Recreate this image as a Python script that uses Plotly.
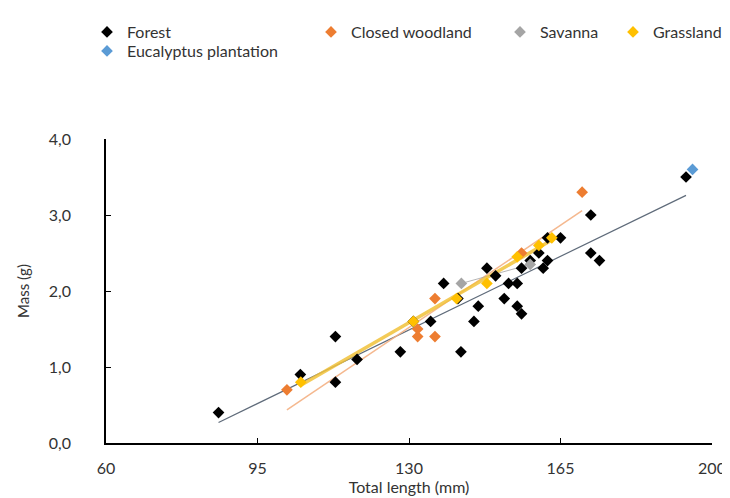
import numpy as np
import plotly.graph_objects as go

# ---- data ----
forest_x = [86, 104.9, 113, 113, 118, 128, 131, 135, 138, 141.3, 142, 145, 146, 148, 150, 152, 153, 155, 155, 156,
            156, 158, 160, 161, 162, 162, 165, 172, 172, 174, 194]
forest_y = [0.4, 0.9, 1.4, 0.8, 1.1, 1.2, 1.6, 1.6, 2.1, 1.9, 1.2, 1.6, 1.8, 2.3, 2.2, 1.9, 2.1, 2.1, 1.8, 1.7,
            2.3, 2.4, 2.5, 2.3, 2.4, 2.7, 2.7, 3.0, 2.5, 2.4, 3.5]
closed_x = [101.8, 132, 132, 136, 136, 156, 170]
closed_y = [0.7, 1.5, 1.4, 1.4, 1.9, 2.5, 3.3]
savanna_x = [142.1, 158]
savanna_y = [2.1, 2.35]
grass_x = [105, 131, 141, 148, 155, 160, 163]
grass_y = [0.8, 1.6, 1.9, 2.1, 2.45, 2.6, 2.7]
euc_x = [195.5]
euc_y = [3.6]

x_ticks = [60, 95, 130, 165, 200]
y_ticks = [0, 1, 2, 3, 4]

# name, x, y, marker colour, trend colour, trend width, trend opacity, legend id, legend pos (px)
series = [
    ("Forest", forest_x, forest_y, "#000000", "#5f6b7a", 1.2, 1.0, "legend", (79, 24)),
    ("Closed woodland", closed_x, closed_y, "#ED7D31", "#F4B183", 1.5, 0.9, "legend2", (303, 24)),
    ("Savanna", savanna_x, savanna_y, "#A5A5A5", "#A5A5A5", 1.0, 0.8, "legend3", (492, 24)),
    ("Grassland", grass_x, grass_y, "#FFC000", "#F2C23A", 3.5, 0.85, "legend4", (605, 24)),
    ("Eucalyptus plantation", euc_x, euc_y, "#5B9BD5", None, 0, 0, "legend5", (79, 43)),
]

W, H = 730, 498
fig = go.Figure()

# trendlines first (below markers)
for name, xs, ys, mc, lc, lw, op, lg, pos in series:
    if lc is None or len(xs) < 2:
        continue
    xs_a = np.array(xs, dtype=float)
    ys_a = np.array(ys, dtype=float)
    m, b = np.polyfit(xs_a, ys_a, 1)
    xl = np.array([xs_a.min(), xs_a.max()])
    fig.add_trace(go.Scatter(x=xl, y=m * xl + b, mode="lines",
                             line=dict(color=lc, width=lw), opacity=op,
                             showlegend=False, hoverinfo="skip"))

legend_layouts = {}
for name, xs, ys, mc, lc, lw, op, lg, pos in series:
    fig.add_trace(go.Scatter(x=xs, y=ys, mode="markers", name=name, legend=lg,
                             marker=dict(symbol="diamond", size=9, color=mc)))
    legend_layouts[lg] = dict(
        x=pos[0] / W, xref="container", xanchor="left",
        y=1 - pos[1] / H, yref="container", yanchor="middle",
        orientation="h", bgcolor="rgba(0,0,0,0)",
        font=dict(family="Lato, sans-serif", size=16, color="#333333"),
    )

fig.update_layout(
    width=W, height=H,
    paper_bgcolor="white", plot_bgcolor="white",
    margin=dict(l=98, r=18, t=131, b=63),
    separators=",.",
    font=dict(family="Lato, sans-serif", size=15, color="#333333"),
    showlegend=True,
    **legend_layouts,
)

fig.update_xaxes(range=[60, 200], tickvals=x_ticks, ticks="inside", ticklen=5,
                 showline=True, linecolor="#000000", linewidth=1.5, showgrid=False,
                 zeroline=False, tickcolor="#000000", ticklabelstandoff=10,
                 tickfont=dict(family="Lato, sans-serif", size=16, color="#333333"),
                 title=dict(text="Total length (mm)", font=dict(size=16, color="#333333"), standoff=5))
fig.update_yaxes(range=[0, 4], tickvals=y_ticks, tickformat=".1f", ticks="inside", ticklen=5,
                 showline=True, linecolor="#000000", linewidth=1.5, showgrid=False,
                 zeroline=False, tickcolor="#000000", ticklabelstandoff=30,
                 tickfont=dict(family="Lato, sans-serif", size=16, color="#333333"),
                 title=dict(text="Mass (g)", font=dict(family="Lato, sans-serif", size=15, color="#333333"),
                            standoff=16))

fig.write_html("out.html")
